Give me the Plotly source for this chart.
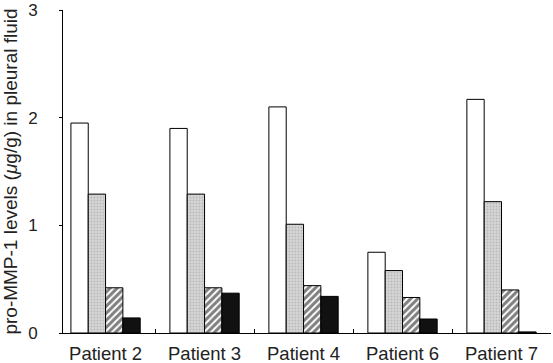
import plotly.graph_objects as go

categories = ["Patient 2", "Patient 3", "Patient 4", "Patient 6", "Patient 7"]
white_vals = [1.95, 1.90, 2.10, 0.75, 2.17]
grey_vals = [1.29, 1.29, 1.01, 0.58, 1.22]
hatch_vals = [0.42, 0.42, 0.44, 0.33, 0.40]
black_vals = [0.14, 0.37, 0.34, 0.13, 0.01]
y_ticks = [0, 1, 2, 3]

fig = go.Figure()
styles = [
    (white_vals, dict(color="white")),
    (grey_vals, dict(color="#cfcfcf", pattern=dict(shape=".", fgcolor="#9a9a9a", bgcolor="#d6d6d6", size=3, solidity=0.3))),
    (hatch_vals, dict(color="white", pattern=dict(shape="/", fgcolor="black", bgcolor="white", size=5, solidity=0.6))),
    (black_vals, dict(color="#111111")),
]
for vals, mk in styles:
    fig.add_trace(go.Bar(x=categories, y=vals, marker=dict(line=dict(color="black", width=1), **mk),
                         showlegend=False))

fig.update_layout(
    width=553, height=363,
    margin=dict(l=63, r=2, t=10, b=30, autoexpand=False),
    plot_bgcolor="white", paper_bgcolor="white",
    barmode="group", bargap=0.3, bargroupgap=0,
    font=dict(family="Liberation Sans, Arial, sans-serif", color="#222", size=17),
)
fig.update_xaxes(range=[-0.43, 4.5], showline=True, linecolor="black", linewidth=1,
                 ticks="inside", tickson="boundaries", ticklen=4, tickcolor="black",
                 showgrid=False, tickfont=dict(size=18.5), ticklabelstandoff=4, automargin=False)
fig.update_yaxes(range=[0, 3], tickvals=y_ticks, showline=True, linecolor="black", linewidth=1,
                 ticks="outside", ticklen=3, tickcolor="black", showgrid=False, zeroline=False,
                 tickfont=dict(size=17), ticklabelstandoff=18, automargin=False,
                 title=dict(text="pro-MMP-1 levels (<i>μ</i>g/g) in pleural fluid", font=dict(size=19), standoff=10))

fig.write_html("out.html", config={"displayModeBar": False},
               post_script="document.body.style.margin='0';")
